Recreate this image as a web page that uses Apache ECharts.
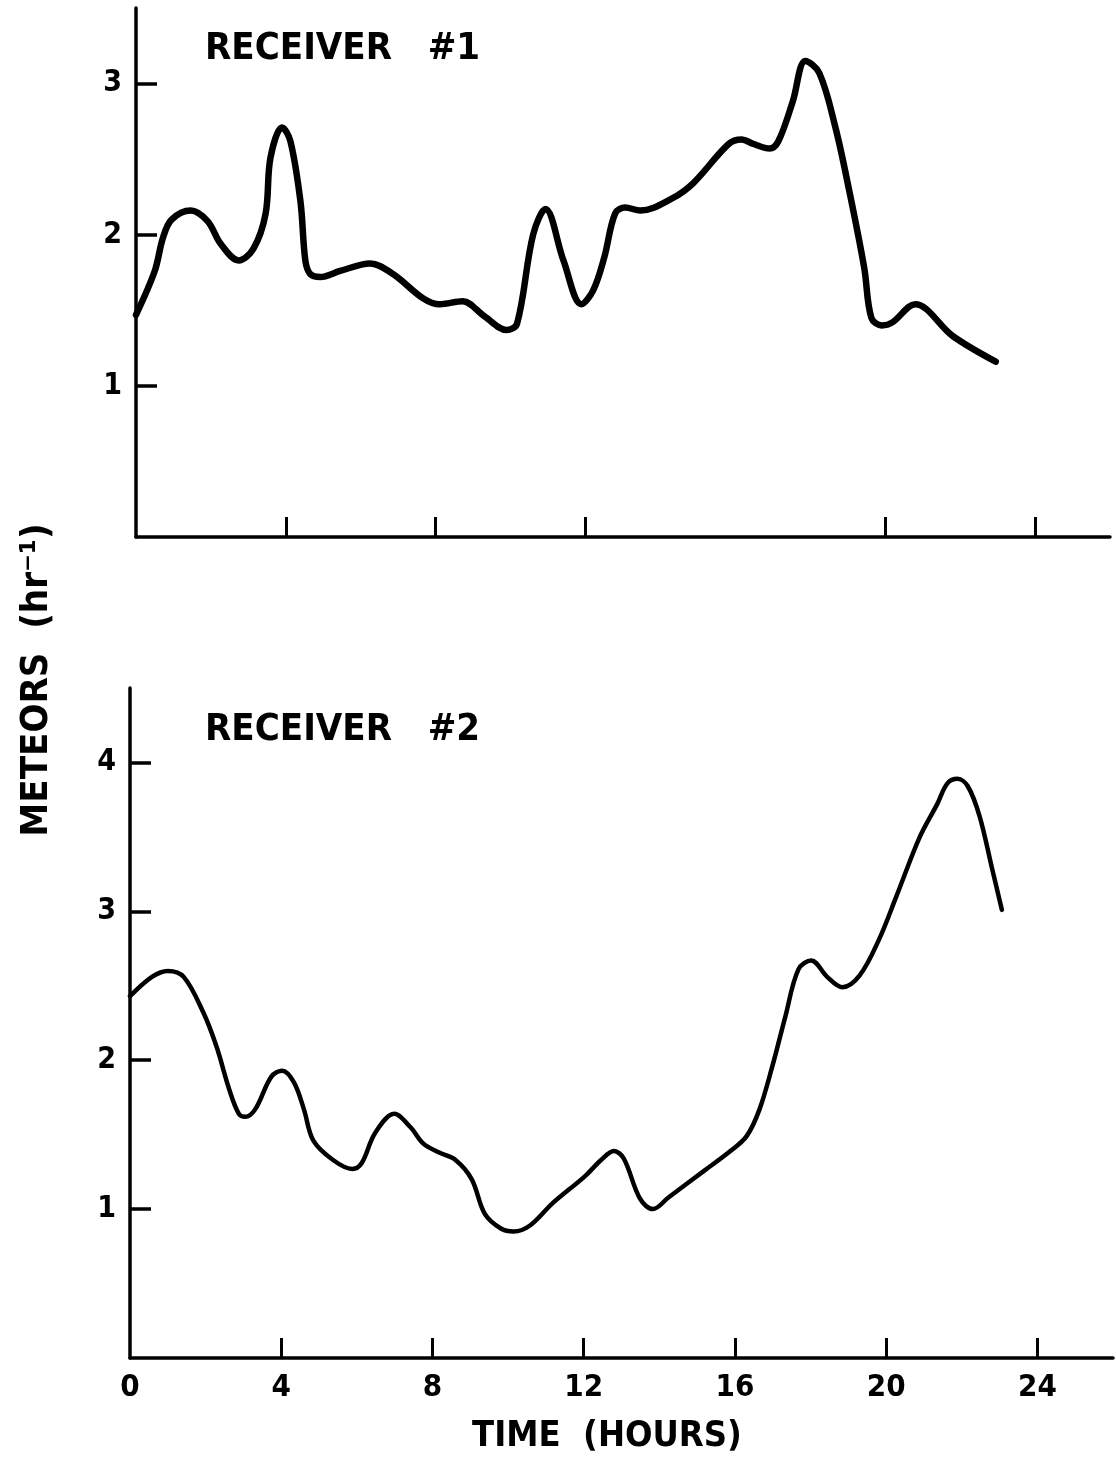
<!DOCTYPE html>
<html>
<head>
<meta charset="utf-8">
<title>Meteor rates, two receivers</title>
<script src="https://cdn.jsdelivr.net/npm/echarts@6/dist/echarts.min.js"></script>
<style>
  html, body { margin: 0; padding: 0; background: #fff; }
  #chart { width: 1116px; height: 1459px; }
</style>
</head>
<body>
<div id="chart"></div>
<script>
// Hourly meteor rates (hr^-1) seen by each receiver over the day.
const hours1 = [0.0, 0.5, 0.72, 0.95, 1.46, 1.91, 2.26, 2.74, 3.14, 3.46, 3.59, 3.9, 4.12, 4.39, 4.52, 4.65, 4.92,
  5.45, 6.25, 6.86, 7.66, 8.11, 8.72, 9.3, 9.89, 10.17, 10.6, 10.93, 11.41, 11.89, 12.2, 12.5, 12.79, 13.06,
  13.46, 14.31, 14.87, 15.82, 16.16, 16.49, 16.91, 17.15, 17.53, 17.87, 18.24, 18.67, 19.04, 19.44, 19.63,
  19.91, 20.19, 20.8, 21.8, 22.95];
const meteors1 = [1.47, 1.76, 1.98, 2.10, 2.16, 2.09, 1.94, 1.83, 1.91, 2.14, 2.51, 2.71, 2.62, 2.22, 1.83, 1.74, 1.72,
  1.76, 1.81, 1.74, 1.58, 1.54, 1.56, 1.46, 1.37, 1.41, 2.0, 2.17, 1.83, 1.54, 1.63, 1.85, 2.14, 2.18,
  2.16, 2.24, 2.34, 2.60, 2.63, 2.60, 2.57, 2.62, 2.88, 3.15, 3.07, 2.71, 2.29, 1.78, 1.45,
  1.40, 1.42, 1.54, 1.33, 1.16];

const hours2 = [0.0, 0.58, 1.0, 1.42, 1.94, 2.29, 2.63, 2.88, 3.05, 3.31, 3.74, 4.03, 4.34, 4.6, 4.85, 5.37, 5.88,
  6.13, 6.48, 6.99, 7.42, 7.76, 8.18, 8.61, 9.04, 9.38, 9.81, 10.15, 10.58, 11.18, 12.03, 12.46, 12.8, 13.06,
  13.49, 13.83, 14.25, 15.2, 15.88, 16.31, 16.65, 16.99, 17.33, 17.68, 18.02, 18.44, 18.84, 19.3, 19.81,
  20.27, 20.89, 21.35, 21.62, 21.89, 22.16, 22.47, 22.79, 23.06];
const meteors2 = [2.43, 2.56, 2.60, 2.56, 2.32, 2.09, 1.80, 1.64, 1.62, 1.67, 1.89, 1.93, 1.85, 1.67, 1.46, 1.33, 1.27,
  1.31, 1.51, 1.64, 1.55, 1.44, 1.38, 1.33, 1.20, 0.97, 0.87, 0.85, 0.89, 1.04, 1.22, 1.33, 1.39, 1.34,
  1.07, 1.00, 1.08, 1.26, 1.39, 1.49, 1.67, 1.96, 2.29, 2.61, 2.67, 2.56, 2.49, 2.57, 2.81,
  3.10, 3.50, 3.72, 3.86, 3.89, 3.84, 3.64, 3.30, 3.01];

// Tick positions
const hourTicks = [0, 4, 8, 12, 16, 20, 24];
const hourTicksTop = [4, 8, 12, 20, 24];
const rateTicks1 = [1, 2, 3];
const rateTicks2 = [1, 2, 3, 4];

const FONT = '"DejaVu Sans Condensed", "DejaVu Sans", sans-serif';
const INK = '#000';

const pairs = (xs, ys) => xs.map((x, i) => [x, ys[i]]);

function valueAxisY(gridIndex, max, ticks) {
  return {
    type: 'value', gridIndex, min: 0, max,
    splitLine: { show: false },
    axisLine: { show: true, onZero: false, lineStyle: { color: INK, width: 3.5, cap: 'round' } },
    axisTick: { show: true, inside: true, length: 21, customValues: ticks, lineStyle: { color: INK, width: 3.5 } },
    axisLabel: { show: true, customValues: ticks, margin: 14, color: INK, fontFamily: FONT, fontWeight: 'bold', fontSize: 30 }
  };
}

function hourAxis(gridIndex, showLabels, ticks) {
  return {
    type: 'value', gridIndex, min: 0, max: 26,
    splitLine: { show: false },
    axisLine: { show: true, onZero: false, lineStyle: { color: INK, width: 3.5, cap: 'round' } },
    axisTick: { show: true, inside: true, length: 20, customValues: ticks, lineStyle: { color: INK, width: 3 } },
    axisLabel: { show: showLabels, customValues: hourTicks, margin: 14, color: INK, fontFamily: FONT, fontWeight: 'bold', fontSize: 31 }
  };
}

const chart = echarts.init(document.getElementById('chart'), null, { renderer: 'canvas' });

chart.setOption({
  backgroundColor: '#fff',
  animation: false,
  grid: [
    { left: 136, top: 8, width: 974, height: 529 },
    { left: 130, top: 688, width: 983, height: 670 }
  ],
  xAxis: [hourAxis(0, false, hourTicksTop), hourAxis(1, true, hourTicks.slice(1))],
  yAxis: [valueAxisY(0, 3.5, rateTicks1), valueAxisY(1, 4.5, rateTicks2)],
  title: [
    { text: 'RECEIVER   #1', left: 200, top: 25, textStyle: { color: INK, fontFamily: FONT, fontWeight: 'bold', fontSize: 38 } },
    { text: 'RECEIVER   #2', left: 200, top: 706, textStyle: { color: INK, fontFamily: FONT, fontWeight: 'bold', fontSize: 38 } }
  ],
  graphic: [
    {
      type: 'text', x: 37, y: 680, rotation: Math.PI / 2,
      style: { text: 'METEORS  (hr\u207B\u00B9)', fill: INK, font: 'bold 38px ' + FONT, textAlign: 'center', textVerticalAlign: 'middle' }
    },
    {
      type: 'text', x: 607, y: 1437,
      style: { text: 'TIME  (HOURS)', fill: INK, font: 'bold 36px ' + FONT, textAlign: 'center', textVerticalAlign: 'middle' }
    }
  ],
  series: [
    {
      type: 'line', xAxisIndex: 0, yAxisIndex: 0, data: pairs(hours1, meteors1),
      showSymbol: false, smooth: 0.35,
      lineStyle: { color: INK, width: 6.5, cap: 'round', join: 'round' }
    },
    {
      type: 'line', xAxisIndex: 1, yAxisIndex: 1, data: pairs(hours2, meteors2),
      showSymbol: false, smooth: 0.35,
      lineStyle: { color: INK, width: 4.5, cap: 'round', join: 'round' }
    }
  ]
});
</script>
</body>
</html>
